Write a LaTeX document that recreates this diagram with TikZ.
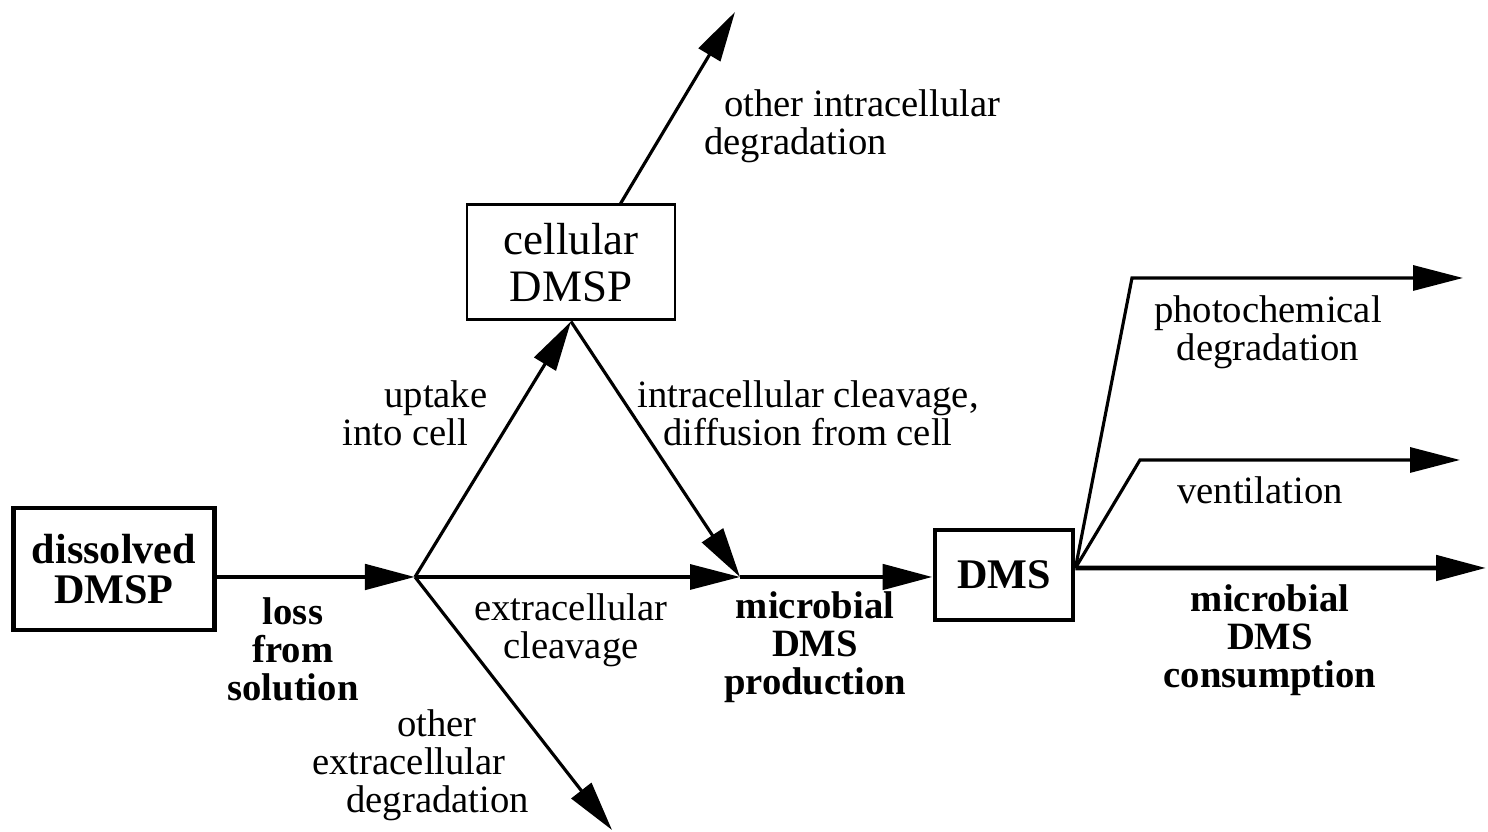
\documentclass[tikz,border=0pt]{standalone}
\usepackage{fontspec}
\setmainfont{Liberation Serif}
\usetikzlibrary{arrows.meta,positioning,calc}

\begin{document}
\begin{tikzpicture}[>={Triangle[length=5mm,width=2.5mm]},
    pool/.style={draw, line width=0.85pt, inner sep=0pt, align=center},
    mainpool/.style={pool, line width=1.4pt, font=\fontsize{12}{11.5}\selectfont\bfseries},
    flow/.style={->, line width=0.9pt},
    mainflow/.style={->, line width=1.4pt},
    lab/.style={align=center, font=\fontsize{11}{10.8}\selectfont},
    blab/.style={lab, font=\fontsize{11}{10.8}\selectfont\bfseries}]
    \useasboundingbox (0,0) rectangle (14.88,8.32);

    % pools
    \node[mainpool, minimum width=2.01cm, minimum height=1.22cm] (diss) at (1.14,2.63) {dissolved\\DMSP};
    \node[pool, minimum width=2.08cm, minimum height=1.15cm, font=\fontsize{12.8}{13.4}\selectfont] (cell) at (5.71,5.695) {cellular\\DMSP};
    \node[mainpool, minimum width=1.38cm, minimum height=0.9cm] (dms) at (10.04,2.57) {DMS};

    % junctions and free ends
    \coordinate (loss) at (4.15,2.55);
    \coordinate (prod) at (7.40,2.55);
    \coordinate (fan) at ($(dms.east)+(0,0.07)$);
    \coordinate (intra) at (7.35,8.20);
    \coordinate (extra) at (6.12,0.02);
    \coordinate (photo) at (14.63,5.54);
    \coordinate (vent) at (14.60,3.72);
    \coordinate (cons) at (14.86,2.64);

    \draw[mainflow] (diss.east |- loss) -- (loss);
    \draw[flow] (loss) -- (cell.south);
    \draw[flow] (loss) -- (prod);
    \draw[flow] (loss) -- (extra);
    \draw[flow] ($(cell.north west)!0.735!(cell.north east)$) -- (intra);
    \draw[flow] (cell.south) -- (prod);
    \draw[mainflow] (prod) -- (dms.west |- prod);
    \draw[flow] (fan) -- (11.32,5.54) -- (photo);
    \draw[flow] (fan) -- (11.40,3.72) -- (vent);
    \draw[mainflow] (fan) -- (cons);

    % labels
    \node[blab] (losslab) at (2.93,1.83) {loss\\from\\solution};
    \node[lab, align=left, anchor=west] (uptake) at (3.30,4.19) {\hspace*{0.42cm}uptake\\into cell};
    \node[lab] (cleave) at (8.08,4.19) {intracellular cleavage,\\diffusion from cell};
    \node[lab] (exlab) at (5.71,2.02) {extracellular\\cleavage};
    \node[blab] (prodlab) at (8.15,1.85) {microbial\\DMS\\production};
    \node[lab, align=left, anchor=west] (exdeg) at (3.00,0.67) {\hspace*{0.85cm}other\\extracellular\\\hspace*{0.34cm}degradation};
    \node[lab, align=left, anchor=west] (indeg) at (6.92,7.06) {\hspace*{0.2cm}other intracellular\\degradation};
    \node[lab] (photolab) at (12.68,5.00) {photochemical\\degradation};
    \node[lab] (ventlab) at (12.60,3.42) {ventilation};
    \node[blab] (conslab) at (12.70,1.92) {microbial\\DMS\\consumption};
\end{tikzpicture}
\end{document}
